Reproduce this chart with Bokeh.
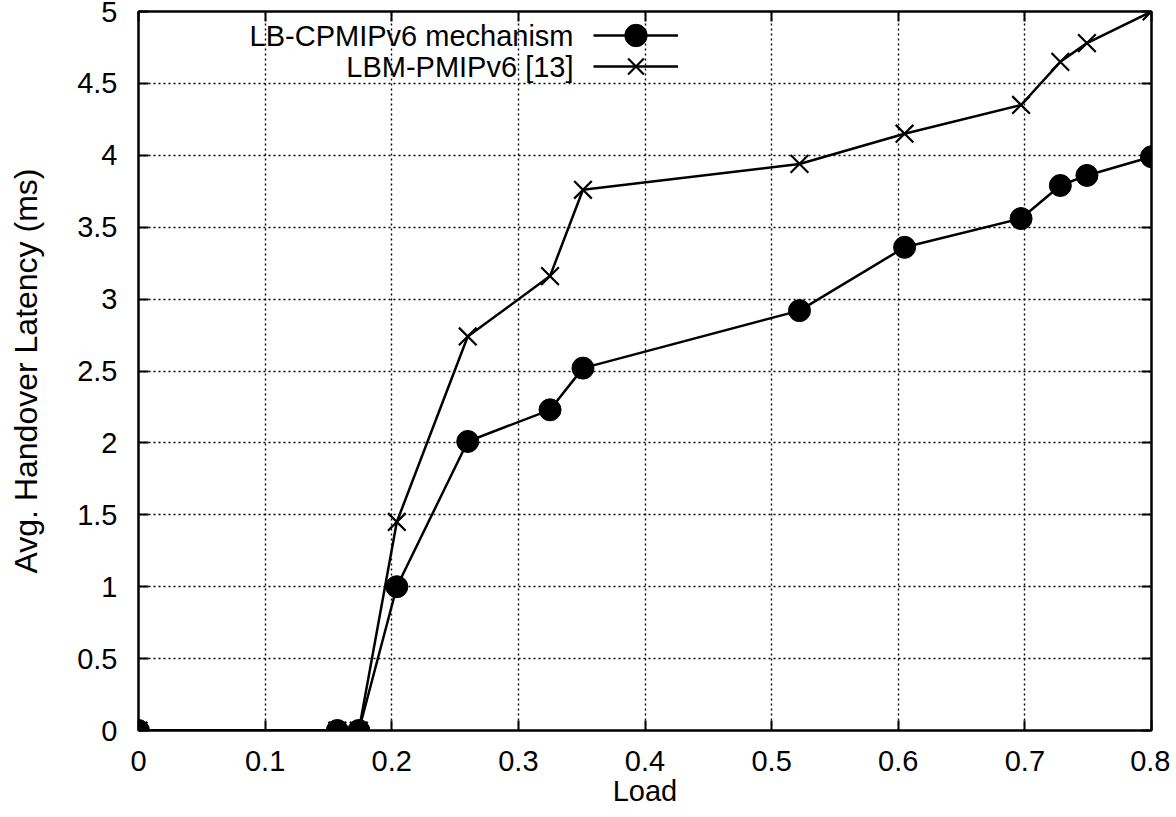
from bokeh.plotting import figure
from bokeh.models import (Range1d, FixedTicker, LinearAxis, Legend, LegendItem, Label)
from bokeh.embed import file_html
from bokeh.resources import INLINE

# ---- data ----
load_cp = [0.0, 0.157, 0.174, 0.204, 0.26, 0.325, 0.351, 0.522, 0.605, 0.697, 0.728, 0.749, 0.8]
lat_cp = [0.0, 0.0, 0.0, 1.0, 2.01, 2.23, 2.52, 2.92, 3.36, 3.56, 3.79, 3.86, 3.99]
load_lbm = [0.0, 0.157, 0.174, 0.204, 0.26, 0.325, 0.351, 0.522, 0.605, 0.697, 0.728, 0.749, 0.8]
lat_lbm = [0.0, 0.0, 0.0, 1.45, 2.74, 3.16, 3.76, 3.94, 4.15, 4.35, 4.65, 4.78, 5.0]
series_names = ["LB-CPMIPv6 mechanism", "LBM-PMIPv6 [13]"]
x_ticks = [0, 0.1, 0.2, 0.3, 0.4, 0.5, 0.6, 0.7, 0.8]
x_tick_labels = ["0", "0.1", "0.2", "0.3", "0.4", "0.5", "0.6", "0.7", "0.8"]
y_ticks = [0, 0.5, 1, 1.5, 2, 2.5, 3, 3.5, 4, 4.5, 5]
y_tick_labels = ["0", "0.5", "1", "1.5", "2", "2.5", "3", "3.5", "4", "4.5", "5"]
x_title = "Load"
y_title = "Avg. Handover Latency (ms)"

FONT = "Liberation Sans"
FS = "29px"
W, H = 1170, 817
LEFT, RIGHT, TOP, BOTTOM = 138, 19, 11, 87
FRAME_H = H - TOP - BOTTOM

p = figure(width=W, height=H, output_backend="svg", toolbar_location=None,
           x_range=Range1d(0, 0.8), y_range=Range1d(0, 5),
           min_border_left=LEFT, min_border_right=RIGHT, min_border_top=TOP, min_border_bottom=BOTTOM)
p.outline_line_color = "black"
p.outline_line_width = 2
p.background_fill_color = "white"
p.border_fill_color = "white"

def style_axis(ax, labels=True):
    ax.axis_line_color = "black"
    ax.axis_line_width = 2
    ax.major_tick_in = 10
    ax.major_tick_out = 0
    ax.minor_tick_in = 0
    ax.minor_tick_out = 0
    ax.major_tick_line_width = 2
    ax.major_label_text_font = FONT
    ax.major_label_text_font_size = FS
    ax.major_label_text_color = "black"
    ax.axis_label_text_font = FONT
    ax.axis_label_text_font_size = FS
    ax.axis_label_text_font_style = "normal"
    ax.axis_label_text_color = "black"
    if not labels:
        ax.major_label_text_font_size = "0px"
        ax.major_label_text_alpha = 0

xax = p.xaxis[0]
yax = p.yaxis[0]
xax.ticker = FixedTicker(ticks=x_ticks)
yax.ticker = FixedTicker(ticks=y_ticks)
xax.major_label_overrides = {t: l for t, l in zip(x_ticks, x_tick_labels)}
yax.major_label_overrides = {t: l for t, l in zip(y_ticks, y_tick_labels)}
style_axis(xax)
style_axis(yax)
xax.axis_label = x_title
yax.axis_label = y_title
yax.axis_label_text_font_size = "32px"
xax.major_label_standoff = 20
yax.major_label_standoff = 21
xax.axis_label_standoff = 1
yax.axis_label_standoff = 30

ax_top = LinearAxis(ticker=FixedTicker(ticks=x_ticks))
ax_right = LinearAxis(ticker=FixedTicker(ticks=y_ticks))
style_axis(ax_top, labels=False)
style_axis(ax_right, labels=False)
p.add_layout(ax_top, "above")
p.add_layout(ax_right, "right")

for g in (p.xgrid[0], p.ygrid[0]):
    g.grid_line_color = "black"
    g.grid_line_dash = "2 3"
    g.grid_line_width = 1.4
p.xgrid[0].ticker = FixedTicker(ticks=x_ticks)
p.ygrid[0].ticker = FixedTicker(ticks=y_ticks)

l1 = p.line(load_cp, lat_cp, line_color="black", line_width=2.5)
m1 = p.scatter(load_cp, lat_cp, marker="circle", size=22, fill_color="black", line_color="black")
l2 = p.line(load_lbm, lat_lbm, line_color="black", line_width=2.5)
m2 = p.scatter(load_lbm, lat_lbm, marker="x", size=25, line_color="black", line_width=2.2)

GH = 56
row_centers = [35 - TOP, 66 - TOP]  # px below frame top
for rend, rc in zip([[l1, m1], [l2, m2]], row_centers):
    leg = Legend(items=[LegendItem(label=" ", renderers=rend)],
                 location=(455, FRAME_H - (rc - GH // 2) - GH), orientation="vertical",
                 glyph_width=85, glyph_height=GH, label_width=0, label_standoff=0,
                 spacing=0, padding=0, margin=0,
                 background_fill_alpha=0, border_line_alpha=0,
                 label_text_font_size="1px")
    p.add_layout(leg, "center")

for name, rc in zip(series_names, row_centers):
    p.add_layout(Label(x=435, y=FRAME_H - rc, x_units="screen", y_units="screen",
                       text=name, text_align="right", text_baseline="middle",
                       text_font=FONT, text_font_size=FS, text_color="black"))

open("out.html", "w").write(file_html(p, INLINE))
